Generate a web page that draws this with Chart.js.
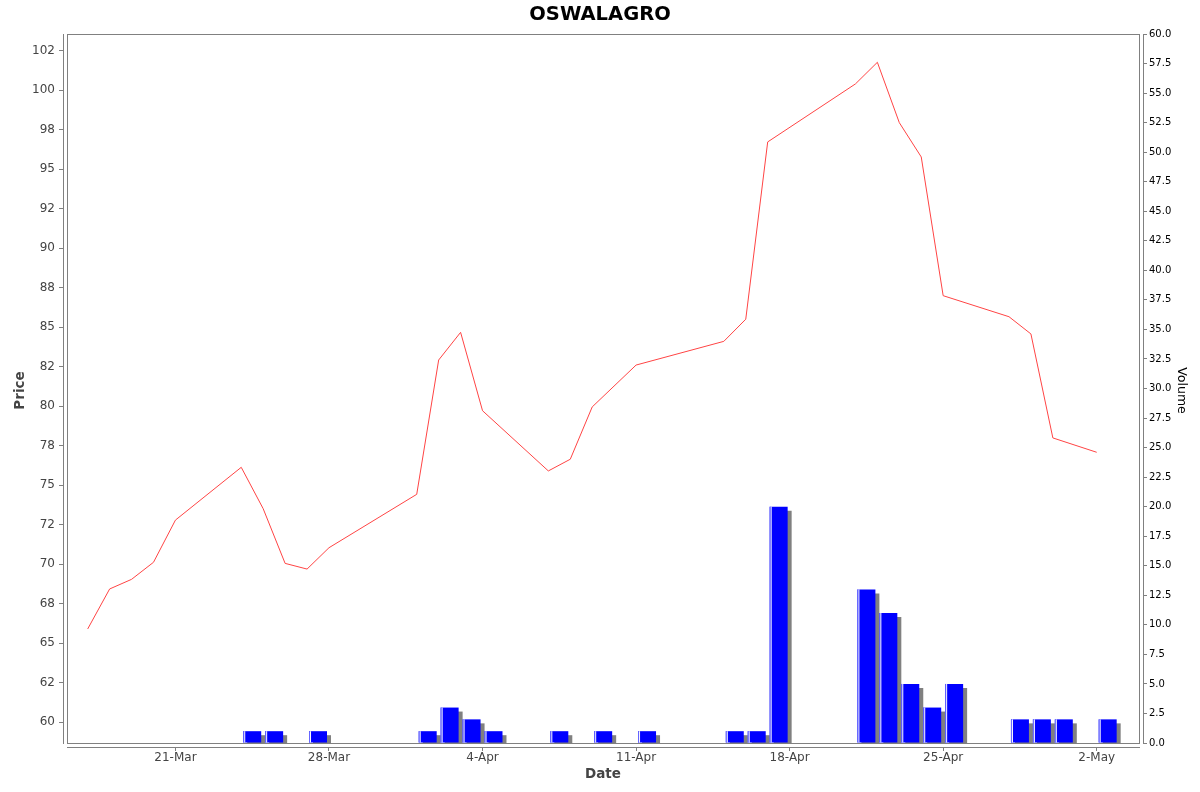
<!DOCTYPE html>
<html><head><meta charset="utf-8">
<script src="https://cdn.jsdelivr.net/npm/chart.js@4.4.1/dist/chart.umd.min.js"></script>
<style>html,body{margin:0;padding:0;background:#fff;} canvas{display:block;}</style>
</head><body>
<canvas id="c" width="1200" height="792"></canvas>
<script>
const dates = ["2025-03-17","2025-03-18","2025-03-19","2025-03-20","2025-03-21",
  "2025-03-24","2025-03-25","2025-03-26","2025-03-27","2025-03-28",
  "2025-04-01","2025-04-02","2025-04-03","2025-04-04",
  "2025-04-07","2025-04-08","2025-04-09","2025-04-11",
  "2025-04-15","2025-04-16","2025-04-17",
  "2025-04-21","2025-04-22","2025-04-23","2025-04-24","2025-04-25",
  "2025-04-28","2025-04-29","2025-04-30","2025-05-02"];
const prices = [65.91,68.44,69.05,70.13,72.80,
  76.14,73.52,70.06,69.70,71.05,
  74.43,82.93,84.68,79.72,
  75.91,76.65,79.96,82.61,
  84.11,85.51,96.73,
  100.40,101.77,97.95,95.78,87.00,
  85.67,84.58,78.00,77.09];
const volumes = [0,0,0,0,0,
  1,1,0,1,0,
  1,3,2,1,
  1,0,1,1,
  1,1,20,
  13,11,5,3,5,
  2,2,2,2];
const dateTickDates = ["2025-03-21","2025-03-28","2025-04-04","2025-04-11","2025-04-18","2025-04-25","2025-05-02"];
const dateTickLabels = ["21-Mar","28-Mar","4-Apr","11-Apr","18-Apr","25-Apr","2-May"];
const priceTickValues = [60,62.5,65,67.5,70,72.5,75,77.5,80,82.5,85,87.5,90,92.5,95,97.5,100,102.5];
const priceTickLabels = ["60","62","65","68","70","72","75","78","80","82","85","88","90","92","95","98","100","102"];
const volumeTickValues = [0,2.5,5,7.5,10,12.5,15,17.5,20,22.5,25,27.5,30,32.5,35,37.5,40,42.5,45,47.5,50,52.5,55,57.5,60];

const DAY0 = Date.UTC(2025,2,17);
function dayIndex(s){ const p = s.split('-').map(Number); return (Date.UTC(p[0],p[1]-1,p[2]) - DAY0)/86400000; }
const xs = dates.map(dayIndex);
const tickXs = dateTickDates.map(dayIndex);
const priceData = xs.map((x,i)=>({x:x, y:prices[i]}));
const volumeData = xs.map((x,i)=>({x:x+0.5, y:volumes[i]}));

const FONT = 'DejaVu Sans';
const GAP = 4;
const clipIn = {left:-GAP, right:-GAP, top:0, bottom:-GAP};

const framePlugin = {
  id:'frame',
  afterDatasetsDraw(chart){
    const ctx = chart.ctx, a = chart.chartArea;
    const L = Math.round(a.left)+GAP, R = Math.round(a.right)-GAP, T = Math.round(a.top), B = Math.round(a.bottom)-GAP;
    ctx.save();
    ctx.strokeStyle = '#808080'; ctx.lineWidth = 1;
    ctx.strokeRect(L+0.5, T+0.5, R-L, B-T);
    ctx.fillStyle = '#808080';
    ctx.fillRect(Math.round(a.left), T, 1, B-T+1);
    ctx.fillRect(Math.round(a.right), T, 1, B-T+1);
    ctx.fillRect(L, Math.round(a.bottom), R-L+1, 1);
    ctx.restore();
  }
};
const barFx = {
  id:'barFx',
  beforeDatasetDraw(chart, args){
    if (chart.data.datasets[args.index].type !== 'bar') return;
    const ctx = chart.ctx; ctx.save();
    ctx.shadowColor = '#808080'; ctx.shadowOffsetX = 4; ctx.shadowOffsetY = 4; ctx.shadowBlur = 0;
  },
  afterDatasetDraw(chart, args){
    if (chart.data.datasets[args.index].type !== 'bar') return;
    const ctx = chart.ctx; ctx.restore();
    const a = chart.chartArea;
    ctx.save();
    ctx.beginPath(); ctx.rect(a.left+GAP, a.top, a.right-a.left-2*GAP, a.bottom-a.top-GAP); ctx.clip();
    args.meta.data.forEach(el => {
      const p = el.getProps(['x','y','base','width'], true);
      const h = p.base - p.y; if (h <= 0) return;
      const left = p.x - p.width/2;
      ctx.fillStyle = '#6a6aff'; ctx.fillRect(left, p.y, 1, h);
      ctx.fillStyle = '#ffffff'; ctx.fillRect(left+1, p.y, 1, h);
    });
    ctx.restore();
  }
};

new Chart(document.getElementById('c'), {
  type: 'line',
  data: {
    datasets: [
      { type:'line', label:'Price', data: priceData, yAxisID:'yPrice', xAxisID:'x',
        borderColor:'#ff4444', borderWidth:1, pointRadius:0, tension:0, fill:false, order:1, clip: clipIn },
      { type:'bar', label:'Volume', data: volumeData, yAxisID:'yVol', xAxisID:'x',
        backgroundColor:'#0000ff', borderWidth:0, barPercentage:0.82, categoryPercentage:1, grouped:false, order:2, clip: clipIn }
    ]
  },
  options: {
    responsive:false, animation:false, devicePixelRatio:1,
    layout:{padding:0},
    plugins:{
      legend:{display:false}, tooltip:{enabled:false},
      title:{display:true, text:'OSWALAGRO', color:'#000', font:{family:FONT, size:19.5, weight:'bold'}, padding:{top:3.5, bottom:7.1}}
    },
    scales:{
      x:{ type:'linear', position:'bottom', min:-1.126, max:48.11, offset:false,
        afterBuildTicks(s){ s.ticks = tickXs.map(v=>({value:v})); },
        afterFit(s){ s.height = 45; },
        ticks:{ autoSkip:false, maxRotation:0, padding:0, color:'#444', font:{family:FONT, size:12},
          callback:(v,i)=>dateTickLabels[i] },
        grid:{ display:true, drawOnChartArea:false, drawTicks:true, tickLength:4, tickColor:'#808080', offset:false },
        border:{display:false},
        title:{ display:true, text:'Date', color:'#444', font:{family:FONT, size:13.5, weight:'bold'}, padding:{top:0, bottom:9} }
      },
      yPrice:{ type:'linear', position:'left', min:58.44, max:103.56,
        afterBuildTicks(s){ s.ticks = priceTickValues.map(v=>({value:v})); },
        afterFit(s){ s.width = 63; },
        ticks:{ autoSkip:false, padding:4, color:'#444', font:{family:FONT, size:12},
          callback:(v,i)=>priceTickLabels[i] },
        grid:{ display:true, drawOnChartArea:false, drawTicks:true, tickLength:4, tickColor:'#808080' },
        border:{display:false},
        title:{ display:true, text:'Price', color:'#444', font:{family:FONT, size:13.5, weight:'bold'}, padding:{top:12, bottom:0} }
      },
      yVol:{ type:'linear', position:'right', min:-0.338, max:60,
        afterBuildTicks(s){ s.ticks = volumeTickValues.map(v=>({value:v})); },
        afterFit(s){ s.width = 57; },
        ticks:{ autoSkip:false, padding:2, color:'#000', font:{family:FONT, size:10},
          callback:(v)=>Number(v).toFixed(1) },
        grid:{ display:true, drawOnChartArea:false, drawTicks:true, tickLength:4, tickColor:'#808080' },
        border:{display:false},
        title:{ display:true, text:'Volume', color:'#000', font:{family:FONT, size:12.5}, padding:{top:10.8, bottom:0} }
      }
    }
  },
  plugins:[framePlugin, barFx]
});
</script>
</body></html>
